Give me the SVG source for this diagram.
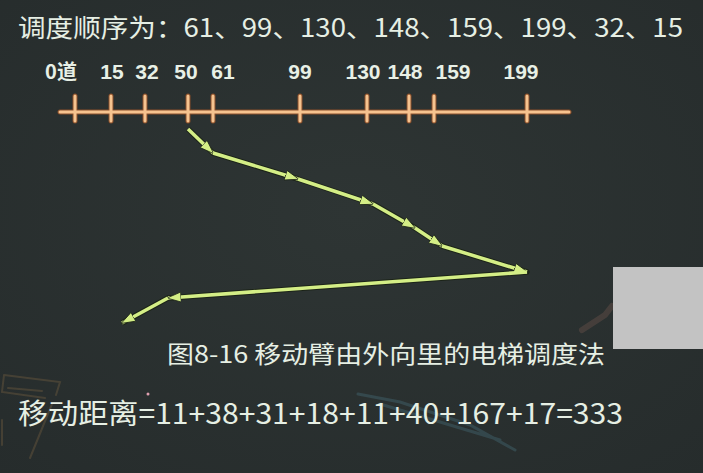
<svg xmlns="http://www.w3.org/2000/svg" width="703" height="473" viewBox="0 0 703 473">
  <style>
    .cjk { font-family: "Noto Sans CJK SC", "Noto Sans", sans-serif; fill: #e6efe4; }
    .lbl { font-family: "Liberation Sans", "Noto Sans CJK SC", sans-serif; font-weight: bold; font-size: 21px; fill: #e8f0e6; text-anchor: middle; }
    .axis-out { stroke: #8a4f2a; stroke-width: 5; stroke-linecap: round; fill: none; }
    .axis-in { stroke: #f6c38f; stroke-width: 3; stroke-linecap: round; fill: none; }
    .path-out { stroke: #1c2418; stroke-width: 5.5; fill: none; stroke-linejoin: round; }
    .path-in { stroke: #d4ee86; stroke-width: 3.5; fill: none; stroke-linejoin: round; }
    .smudge { fill: none; stroke-linecap: round; }
  </style>
  <defs>
    <radialGradient id="bg" cx="0.5" cy="0.45" r="0.75">
      <stop offset="0" stop-color="#2e3534"/>
      <stop offset="1" stop-color="#262c2c"/>
    </radialGradient>
    <marker id="arr" viewBox="0 0 14 11" refX="13" refY="5.5" markerWidth="14" markerHeight="11" markerUnits="userSpaceOnUse" orient="auto">
      <path d="M0,0.5 L14,5.5 L0,10.5 z" fill="#d4ee86" stroke="#1c2418" stroke-width="0.8"/>
    </marker>
  </defs>

  <rect x="0" y="0" width="703" height="473" fill="url(#bg)"/>

  <!-- faint chalk smudges on the board -->
  <g id="smudges" opacity="0.18">
    <path class="smudge" stroke="#d49a5a" stroke-width="2" d="M4,375 L60,382 L56,395 M4,375 L2,392 L45,398 M8,388 L42,391 M52,404 L30,458 M2,420 L2,445"/>
    <path class="smudge" stroke="#6ab8d0" stroke-width="3" d="M358,394 L400,402 L470,425 L515,450 M380,404 L500,440"/>
    <path class="smudge" stroke="#c08070" stroke-width="6" d="M582,330 L605,315 L612,306"/>
  </g>
  <circle cx="148" cy="394" r="1.5" fill="#e0a0b0"/>

  <g id="title">
    <text class="cjk" x="18" y="37" font-size="25" textLength="665" lengthAdjust="spacingAndGlyphs">调度顺序为：61、99、130、148、159、199、32、15</text>
  </g>

  <g id="axis">
    <line class="axis-out" x1="60" y1="112" x2="569" y2="112"/>
    <g class="axis-out">
      <line x1="75" y1="96" x2="75" y2="121"/>
      <line x1="111" y1="96" x2="111" y2="121"/>
      <line x1="145" y1="96" x2="145" y2="121"/>
      <line x1="188" y1="96" x2="188" y2="121"/>
      <line x1="213" y1="96" x2="213" y2="121"/>
      <line x1="300" y1="96" x2="300" y2="121"/>
      <line x1="367" y1="96" x2="367" y2="121"/>
      <line x1="409" y1="96" x2="409" y2="121"/>
      <line x1="434" y1="96" x2="434" y2="121"/>
      <line x1="527" y1="96" x2="527" y2="121"/>
    </g>
    <line class="axis-in" x1="60" y1="112" x2="569" y2="112"/>
    <g class="axis-in">
      <line x1="75" y1="96" x2="75" y2="121"/>
      <line x1="111" y1="96" x2="111" y2="121"/>
      <line x1="145" y1="96" x2="145" y2="121"/>
      <line x1="188" y1="96" x2="188" y2="121"/>
      <line x1="213" y1="96" x2="213" y2="121"/>
      <line x1="300" y1="96" x2="300" y2="121"/>
      <line x1="367" y1="96" x2="367" y2="121"/>
      <line x1="409" y1="96" x2="409" y2="121"/>
      <line x1="434" y1="96" x2="434" y2="121"/>
      <line x1="527" y1="96" x2="527" y2="121"/>
    </g>
  </g>

  <g id="labels">
    <text class="lbl" x="61" y="79" style="font-family:'Noto Sans CJK SC','Liberation Sans',sans-serif;font-size:20px">0道</text>
    <text class="lbl" x="112" y="79">15</text>
    <text class="lbl" x="147" y="79">32</text>
    <text class="lbl" x="186" y="79">50</text>
    <text class="lbl" x="223" y="79">61</text>
    <text class="lbl" x="300" y="79">99</text>
    <text class="lbl" x="363" y="79">130</text>
    <text class="lbl" x="405" y="79">148</text>
    <text class="lbl" x="453" y="79">159</text>
    <text class="lbl" x="521" y="79">199</text>
  </g>

  <g id="connectors">
    <polyline class="path-out" points="188,129 213,153 298,179 373,204 415,228 442,246 527,272 168,298 122,323"/>
    <g class="path-in" marker-end="url(#arr)">
      <line x1="188" y1="129" x2="213" y2="153"/>
      <line x1="213" y1="153" x2="298" y2="179"/>
      <line x1="298" y1="179" x2="373" y2="204"/>
      <line x1="373" y1="204" x2="415" y2="228"/>
      <line x1="415" y1="228" x2="442" y2="246"/>
      <line x1="442" y1="246" x2="527" y2="272"/>
      <line x1="527" y1="272" x2="168" y2="298"/>
      <line x1="168" y1="298" x2="122" y2="323"/>
    </g>
  </g>

  <g id="caption">
    <text class="cjk" x="167" y="363" font-size="24" textLength="438" lengthAdjust="spacingAndGlyphs">图8-16 移动臂由外向里的电梯调度法</text>
  </g>

  <g id="formula">
    <text class="cjk" x="18" y="424" font-size="28" textLength="605" lengthAdjust="spacingAndGlyphs">移动距离=11+38+31+18+11+40+167+17=333</text>
  </g>

  <rect id="cover" x="613" y="267" width="90" height="82" fill="#c3c3c3"/>
</svg>
